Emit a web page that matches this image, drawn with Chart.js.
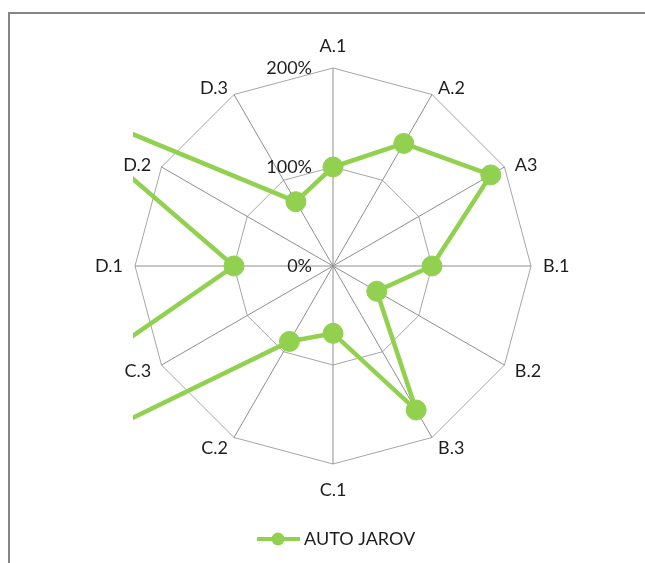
<!DOCTYPE html>
<html>
<head>
<meta charset="utf-8">
<title>AUTO JAROV</title>
<script src="https://cdn.jsdelivr.net/npm/chart.js@4.4.1/dist/chart.umd.min.js"></script>
<style>
  body { margin: 0; background: #fff; }
  canvas { display: block; }
</style>
</head>
<body>
<canvas id="myChart" width="645" height="563"></canvas>
<script>
var xValues = ["A.1", "A.2", "A3", "B.1", "B.2", "B.3", "C.1", "C.2", "C.3", "D.1", "D.2", "D.3"];
var yValues = [100, 143, 184, 100, 51, 168, 68, 88, 700, 100, 350, 75];
var tickValues = [0, 100, 200];
var seriesName = "AUTO JAROV";
var lineColor = "#92d050";
var textColor = "#1e1e1e";
var textFont = "18px Lato";

// white page with the grey frame on the top and left
const framePlugin = {
  id: "frame",
  beforeDraw(chart) {
    const ctx = chart.ctx;
    ctx.save();
    ctx.fillStyle = "#fff";
    ctx.fillRect(0, 0, chart.width, chart.height);
    ctx.strokeStyle = "#868686";
    ctx.lineWidth = 2;
    ctx.beginPath();
    ctx.moveTo(9, chart.height);
    ctx.lineTo(9, 13);
    ctx.lineTo(chart.width, 13);
    ctx.stroke();
    ctx.restore();
  }
};

// the series is cut off at the edge of the plot square
const clipPlugin = {
  id: "plotClip",
  beforeDatasetsDraw(chart) {
    const r = chart.scales.r;
    const half = r.drawingArea + 2;
    chart.ctx.save();
    chart.ctx.beginPath();
    chart.ctx.rect(r.xCenter - half, r.yCenter - half, half * 2, half * 2);
    chart.ctx.clip();
  },
  afterDatasetsDraw(chart) {
    chart.ctx.restore();
  }
};

// category names, percent ticks and the legend
const textPlugin = {
  id: "axisText",
  afterDraw(chart) {
    const r = chart.scales.r;
    const ctx = chart.ctx;
    ctx.save();
    ctx.font = textFont;
    ctx.fillStyle = textColor;
    ctx.textBaseline = "middle";

    xValues.forEach(function (name, i) {
      const p = r.getPointPosition(i, r.drawingArea + 12);
      const dx = p.x - r.xCenter;
      let y = p.y;
      if (Math.abs(dx) < 1) {
        ctx.textAlign = "center";
        y += p.y < r.yCenter ? -10 : 14;
      } else {
        ctx.textAlign = dx > 0 ? "left" : "right";
        if (p.y < r.yCenter - 1) y += 4;
      }
      ctx.fillText(name, p.x, y);
    });

    ctx.textAlign = "right";
    r.ticks.forEach(function (t) {
      ctx.fillText(t.label, r.xCenter - 21, r.yCenter - r.getDistanceFromCenterForValue(t.value));
    });

    const ds = chart.data.datasets[0];
    const lx = 278, ly = 539;
    ctx.strokeStyle = ds.borderColor;
    ctx.lineWidth = 4;
    ctx.beginPath();
    ctx.moveTo(lx - 21, ly);
    ctx.lineTo(lx + 22, ly);
    ctx.stroke();
    ctx.fillStyle = ds.backgroundColor;
    ctx.beginPath();
    ctx.arc(lx, ly, 6.5, 0, Math.PI * 2);
    ctx.fill();
    ctx.fillStyle = textColor;
    ctx.textAlign = "left";
    ctx.fillText(ds.label, lx + 26, ly);
    ctx.restore();
  }
};

new Chart("myChart", {
  type: "radar",
  data: {
    labels: xValues,
    datasets: [
      {
        label: seriesName,
        data: yValues,
        borderColor: lineColor,
        backgroundColor: lineColor,
        pointBackgroundColor: lineColor,
        pointBorderColor: lineColor,
        borderWidth: 4.5,
        pointRadius: 10,
        pointBorderWidth: 1,
        fill: false,
      },
    ],
  },
  options: {
    responsive: false,
    animation: false,
    layout: {
      padding: { left: 135, right: 114, top: 68, bottom: 99 },
    },
    plugins: {
      legend: { display: false },
      tooltip: { enabled: false },
    },
    scales: {
      r: {
        min: tickValues[0],
        max: tickValues[tickValues.length - 1],
        ticks: {
          display: false,
          stepSize: tickValues[1] - tickValues[0],
          callback: function (v) { return v + "%"; },
        },
        pointLabels: { display: false },
        grid: { color: "#a6a6a6", lineWidth: 1 },
        angleLines: { color: "#8f8f8f", lineWidth: 1 },
      },
    },
  },
  plugins: [framePlugin, clipPlugin, textPlugin],
});
</script>
</body>
</html>
